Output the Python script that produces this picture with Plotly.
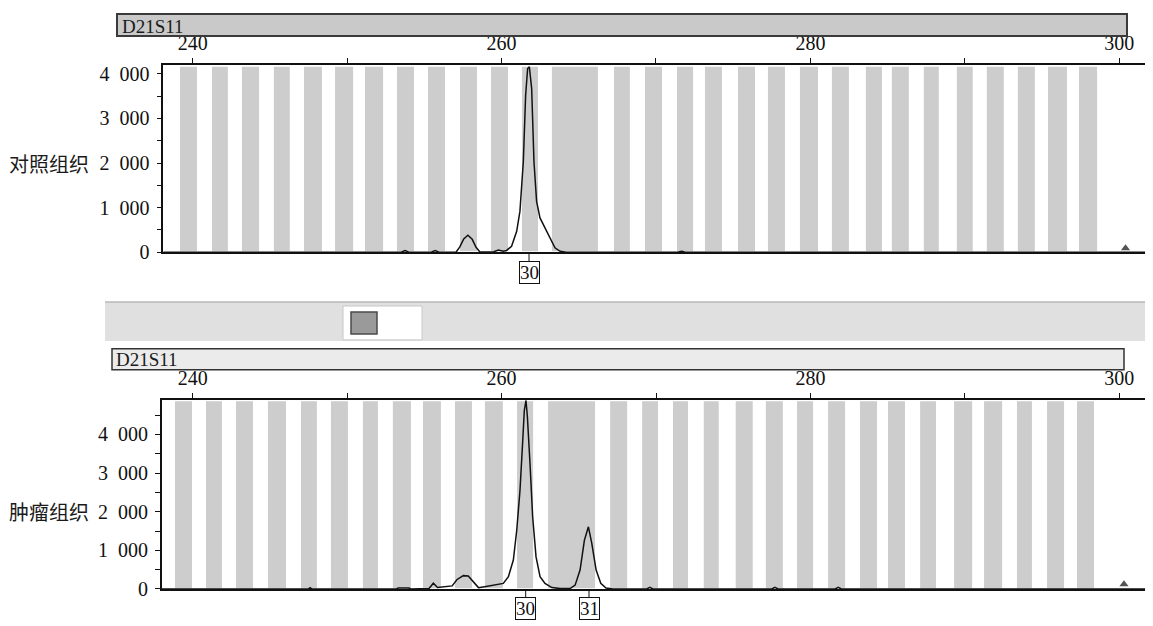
import plotly.graph_objects as go

# Layout helpers: the page body adds an 8 px margin; the captured picture is
# slightly compressed vertically, so vertical positions are scaled by SY.
OFF = 8
SY = 637 / 626
W, H = 1153 - OFF, 637 - 2 * OFF


def px(x):
    return (x - OFF) / W


def py(y):
    return 1 - (y * SY - OFF) / H


# ---------------- data ----------------
locus = "D21S11"
panel_names = ["对照组织", "肿瘤组织"]

x_tick_vals = [240, 250, 260, 270, 280, 290, 300]
x_tick_text = ["240", "", "260", "", "280", "", "300"]
y_tick_vals = [0, 1000, 2000, 3000, 4000]
y_tick_text = ["0", "1\u2002000", "2\u2002000", "3\u2002000", "4\u2002000"]

# allele bins (gray bands), start / end in bp
top_bin_start = [239.18, 241.25, 243.19, 245.26, 247.21, 249.22, 251.16, 253.23, 255.24, 257.31,
                 259.32, 261.32, 263.26, 267.28, 269.29, 271.36, 273.17, 275.31, 277.25, 279.32,
                 281.39, 283.59, 285.27, 287.34, 289.48, 291.42, 293.43, 295.38, 297.39]
top_bin_end = [240.28, 242.28, 244.30, 246.29, 248.37, 250.39, 252.33, 254.33, 256.34, 258.41,
               260.42, 262.36, 266.24, 268.31, 270.39, 272.40, 274.27, 276.41, 278.35, 280.49,
               282.49, 284.63, 286.37, 288.31, 290.51, 292.52, 294.53, 296.61, 298.56]
bot_bin_start = [238.85, 240.86, 242.80, 244.87, 247.01, 248.95, 251.02, 252.96, 254.91, 256.98,
                 258.92, 261.00, 263.01, 267.03, 269.10, 271.10, 273.09, 275.16, 277.11, 279.13,
                 281.14, 283.21, 285.02, 287.10, 289.30, 291.24, 293.37, 295.32, 297.26]
bot_bin_end = [239.95, 241.89, 243.90, 246.04, 248.04, 250.05, 251.99, 254.13, 256.07, 258.08,
               260.08, 262.04, 266.05, 268.13, 270.13, 272.07, 274.06, 276.26, 278.21, 280.17,
               282.24, 284.31, 286.12, 288.13, 290.47, 292.41, 294.34, 296.42, 298.36]

# electropherogram traces (bp, RFU)
top_x = [238.1, 253.5, 253.75, 254.0, 255.45, 255.7, 255.95, 257.05, 257.3, 257.55, 257.82, 258.1,
         258.35, 258.6, 259.5, 259.8, 260.1, 260.33, 260.65, 260.98, 261.19, 261.41, 261.56, 261.69,
         261.8, 261.95, 262.1, 262.27, 262.49, 262.81, 263.14, 263.46, 263.79, 264.2, 271.4, 271.66,
         271.9, 302.2]
top_y = [0, 0, 35, 0, 0, 35, 0, 0, 120, 300, 380, 290,
         110, 5, 10, 50, 20, 40, 135, 470, 915, 2030, 3520, 4120,
         4160, 3670, 2030, 1140, 770, 540, 320, 100, 20, 0, 0, 20,
         0, 0]

bot_x = [238.0, 247.5, 247.6, 247.7, 253.2, 253.3, 254.0, 254.1, 255.3, 255.58, 255.85, 256.1,
         256.5, 256.8, 257.1, 257.52, 257.84, 258.17, 258.5, 258.9, 259.47, 259.8, 260.11, 260.44,
         260.76, 260.98, 261.19, 261.37, 261.47, 261.58, 261.67, 261.84, 262.01, 262.23, 262.49,
         262.81, 263.25, 263.8, 264.43, 264.76, 265.08, 265.36, 265.62, 265.84, 266.12, 266.42,
         266.76, 267.2, 269.4, 269.6, 269.8, 277.5, 277.7, 277.9, 281.6, 281.8, 282.0, 302.2]
bot_y = [0, 0, 30, 0, 0, 25, 25, 0, 10, 150, 40, 50,
         50, 80, 240, 345, 335, 190, 35, 60, 100, 110, 145, 320,
         750, 1520, 2550, 3850, 4620, 4880, 4450, 3240, 1870, 830, 320,
         145, 35, 10, 10, 100, 490, 1260, 1610, 1180, 490, 145,
         25, 0, 0, 40, 0, 0, 40, 0, 0, 40, 0, 0]

# size-standard marker near 300 bp
top_marker_x = [300.4]
top_marker_y = [90]
bot_marker_x = [300.3]
bot_marker_y = [120]

# called alleles
top_allele_labels = ["30"]
top_allele_x = [261.78]
bot_allele_labels = ["30", "31"]
bot_allele_x = [261.56, 265.66]

# ---------------- figure ----------------
SERIF = "Liberation Serif"
CJK = "Noto Sans CJK SC"

fig = go.Figure()

fig.add_trace(go.Scatter(x=top_x, y=top_y, mode="lines", xaxis="x", yaxis="y",
                         line=dict(color="#111111", width=1.5), showlegend=False, hoverinfo="skip"))
fig.add_trace(go.Scatter(x=top_marker_x, y=top_marker_y, mode="markers", xaxis="x", yaxis="y",
                         marker=dict(symbol="triangle-up", size=8, color="#555555"),
                         showlegend=False, hoverinfo="skip"))
fig.add_trace(go.Scatter(x=bot_x, y=bot_y, mode="lines", xaxis="x2", yaxis="y2",
                         line=dict(color="#111111", width=1.5), showlegend=False, hoverinfo="skip"))
fig.add_trace(go.Scatter(x=bot_marker_x, y=bot_marker_y, mode="markers", xaxis="x2", yaxis="y2",
                         marker=dict(symbol="triangle-up", size=8, color="#555555"),
                         showlegend=False, hoverinfo="skip"))

top_yrange = [0, 4200]
bot_yrange = [0, 4900]
top_xrange = [238.1, 302.18]
bot_xrange = [237.99, 302.18]

shapes = []
# bins
for s, e in zip(top_bin_start, top_bin_end):
    shapes.append(dict(type="rect", xref="x", yref="y", x0=s, x1=e, y0=20, y1=top_yrange[1] - 40,
                       fillcolor="#cdcdcd", line=dict(width=0), layer="below"))
for s, e in zip(bot_bin_start, bot_bin_end):
    shapes.append(dict(type="rect", xref="x2", yref="y2", x0=s, x1=e, y0=20, y1=bot_yrange[1] - 40,
                       fillcolor="#cdcdcd", line=dict(width=0), layer="below"))

# top locus bar
shapes.append(dict(type="rect", xref="paper", yref="paper", x0=px(117), x1=px(1127), y0=py(34), y1=py(12),
                   fillcolor="#c9c9c9", line=dict(color="#3a3a3a", width=2)))
# toolbar band between panels
shapes.append(dict(type="rect", xref="paper", yref="paper", x0=px(105), x1=px(1153), y0=py(340), y1=py(301),
                   fillcolor="#e0e0e0", line=dict(width=0)))
shapes.append(dict(type="line", xref="paper", yref="paper", x0=px(105), x1=px(1153), y0=py(301), y1=py(301),
                   line=dict(color="#b8b8b8", width=1.5)))
shapes.append(dict(type="rect", xref="paper", yref="paper", x0=px(343), x1=px(422), y0=py(339), y1=py(305),
                   fillcolor="#ffffff", line=dict(color="#c8c8c8", width=1)))
shapes.append(dict(type="rect", xref="paper", yref="paper", x0=px(351), x1=px(377), y0=py(333), y1=py(311),
                   fillcolor="#9a9a9a", line=dict(color="#4a4a4a", width=1.5)))
# bottom locus bar
shapes.append(dict(type="rect", xref="paper", yref="paper", x0=px(112), x1=px(1124), y0=py(369), y1=py(348),
                   fillcolor="#ebebeb", line=dict(color="#333333", width=1.5)))

annotations = []
annotations.append(dict(text=locus, xref="paper", yref="paper", x=px(120), y=py(24), xanchor="left",
                        yanchor="middle", showarrow=False, font=dict(family=SERIF, size=19, color="#1a1a1a")))
annotations.append(dict(text=locus, xref="paper", yref="paper", x=px(114), y=py(359), xanchor="left",
                        yanchor="middle", showarrow=False, font=dict(family=SERIF, size=19, color="#1a1a1a")))
annotations.append(dict(text=panel_names[0], xref="paper", yref="y", x=px(91), y=2000, xanchor="right",
                        yanchor="middle", showarrow=False, font=dict(family=CJK, size=20, color="#1a1a1a")))
annotations.append(dict(text=panel_names[1], xref="paper", yref="y2", x=px(91), y=2000, xanchor="right",
                        yanchor="middle", showarrow=False, font=dict(family=CJK, size=20, color="#1a1a1a")))
for lab, xv in zip(top_allele_labels, top_allele_x):
    annotations.append(dict(text=lab, xref="x", yref="y", x=xv, y=0, showarrow=True, arrowhead=0,
                            arrowwidth=1, arrowcolor="#111111", ax=0, ay=20,
                            bordercolor="#111111", borderwidth=1, borderpad=0, bgcolor="#ffffff",
                            font=dict(family=SERIF, size=19, color="#111111")))
for lab, xv in zip(bot_allele_labels, bot_allele_x):
    annotations.append(dict(text=lab, xref="x2", yref="y2", x=xv, y=0, showarrow=True, arrowhead=0,
                            arrowwidth=1, arrowcolor="#111111", ax=0, ay=20,
                            bordercolor="#111111", borderwidth=1, borderpad=0, bgcolor="#ffffff",
                            font=dict(family=SERIF, size=19, color="#111111")))

tickfont = dict(family=SERIF, size=20, color="#111111")

top_dom_x = [px(163.3), 1.0]
top_dom_y = [py(251), py(63)]
bot_dom_x = [px(161.7), 1.0]
bot_dom_y = [py(589), py(399)]


def xaxis_main(domain, rng, anchor):
    return dict(domain=domain, range=rng, anchor=anchor, side="top", showline=True, mirror=True,
                linecolor="#111111", linewidth=1.5, showgrid=False, zeroline=False,
                tickmode="array", tickvals=x_tick_vals, ticktext=x_tick_text,
                ticks="outside", ticklen=5, tickwidth=1.3, tickcolor="#111111",
                tickfont=tickfont, ticklabelstandoff=0)


def xaxis_over(over, rng, anchor):
    return dict(overlaying=over, range=rng, anchor=anchor, side="top", showline=False, showgrid=False,
                zeroline=False, tickmode="array", tickvals=x_tick_vals, ticks="inside", ticklen=4,
                tickwidth=1.3, tickcolor="#111111", showticklabels=False)


def yaxis_main(domain, rng, anchor):
    return dict(domain=domain, range=rng, anchor=anchor, showline=True, linecolor="#111111", linewidth=1.5,
                showgrid=False, zeroline=False, tickmode="array", tickvals=y_tick_vals, ticktext=y_tick_text,
                ticks="outside", ticklen=5, tickwidth=1.3, tickcolor="#111111", tickfont=tickfont,
                ticklabelstandoff=3,
                minor=dict(ticks="outside", ticklen=5, tickwidth=1.3, tickcolor="#111111", dtick=500,
                           tick0=0, showgrid=False))


def yaxis_over(over, rng, anchor):
    return dict(overlaying=over, range=rng, anchor=anchor, side="left", showline=False, showgrid=False,
                zeroline=False, tickmode="array", tickvals=y_tick_vals, ticks="inside", ticklen=4,
                tickwidth=1.3, tickcolor="#111111", showticklabels=False,
                minor=dict(ticks="inside", ticklen=4, tickwidth=1.3, tickcolor="#111111", dtick=500,
                           tick0=0, showgrid=False))


fig.update_layout(
    width=W, height=H, autosize=False,
    margin=dict(l=0, r=0, t=0, b=0),
    paper_bgcolor="#ffffff", plot_bgcolor="rgba(0,0,0,0)",
    showlegend=False,
    xaxis=xaxis_main(top_dom_x, top_xrange, "y"),
    yaxis=yaxis_main(top_dom_y, top_yrange, "x"),
    xaxis2=xaxis_main(bot_dom_x, bot_xrange, "y2"),
    yaxis2=yaxis_main(bot_dom_y, bot_yrange, "x2"),
    xaxis3=xaxis_over("x", top_xrange, "y"),
    yaxis3=yaxis_over("y", top_yrange, "x"),
    xaxis4=xaxis_over("x2", bot_xrange, "y2"),
    yaxis4=yaxis_over("y2", bot_yrange, "x2"),
    shapes=shapes,
    annotations=annotations,
)

fig.write_html("out.html")
